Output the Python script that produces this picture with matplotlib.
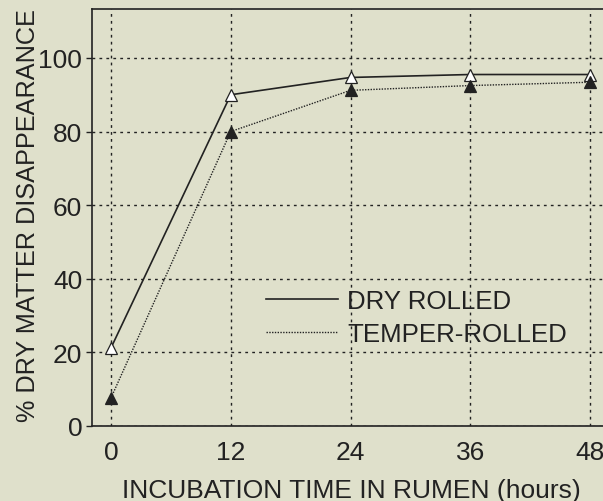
import matplotlib
matplotlib.use("Agg")
import matplotlib.pyplot as plt

hours = [0, 12, 24, 36, 48]
dry_rolled = [21.2, 90.0, 94.7, 95.5, 95.5]
temper_rolled = [7.6, 80.0, 91.2, 92.5, 93.4]
xticks = [0, 12, 24, 36, 48]
yticks = [0, 20, 40, 60, 80, 100]

bg = "#DFE0CB"
ink = "#222222"
plt.rcParams['font.family'] = ['Liberation Sans', 'DejaVu Sans']

W, H = 603, 502
fig = plt.figure(figsize=(W/100, H/100), dpi=100, facecolor=bg)
ax = fig.add_axes([92/W, 1-427/H, (W-92)/W + 0.01, (427-10)/H])
ax.set_facecolor(bg)

ax.plot(hours, dry_rolled, '-', color=ink, lw=1.2, marker='^', ms=9,
        mfc='white', mec=ink, mew=0.9, label='DRY ROLLED', zorder=3)
ax.plot(hours, temper_rolled, linestyle=(0, (1, 1)), color=ink, lw=1.0, marker='^', ms=9,
        mfc=ink, mec=ink, mew=0.9, label='TEMPER-ROLLED', zorder=3)

ax.set_xlim(-1.9, 49.9)
ax.set_ylim(0, 113.3)
ax.set_xticks(xticks)
ax.set_yticks(yticks)
ax.grid(True, color=ink, linestyle=(0, (2, 3)), lw=1.0)
ax.tick_params(axis='x', labelsize=19, colors=ink, length=0, pad=10)
ax.tick_params(axis='y', labelsize=19, colors=ink, length=4, width=1, direction='out', pad=3)
for s in ['left', 'bottom', 'top']:
    ax.spines[s].set_color(ink)
    ax.spines[s].set_linewidth(1.2)
ax.spines['right'].set_visible(False)

fig.text(351/W, 1-491/H, 'INCUBATION TIME IN RUMEN (hours)', fontsize=19, color=ink,
         ha='center', va='center')
fig.text(28/W, 1-216/H, '% DRY MATTER DISAPPEARANCE', fontsize=18.2, color=ink,
         ha='center', va='center', rotation=90)

leg = ax.legend(loc='upper left', bbox_to_anchor=((266-92)/(W-92+6), 1-(290-10)/417),
                frameon=False, fontsize=18.6, handlelength=2.8, handletextpad=0.35,
                labelspacing=0.36, borderaxespad=0, borderpad=0)
for h in leg.legend_handles:
    h.set_marker('')
for t in leg.get_texts():
    t.set_color(ink)

fig.savefig('out.png', dpi=100, facecolor=bg)
